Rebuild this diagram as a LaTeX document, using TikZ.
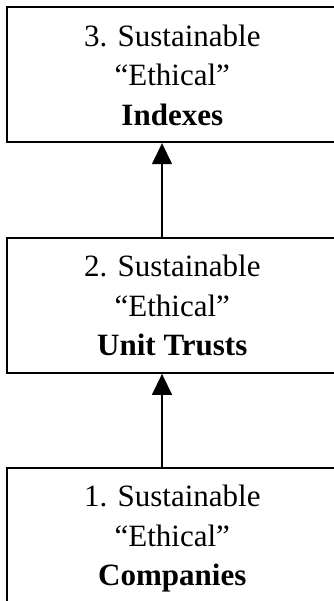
\documentclass[tikz,border=0pt]{standalone}
\usepackage{fontspec}
\setmainfont{Liberation Serif}
\usetikzlibrary{arrows.meta}
\begin{document}
\begin{tikzpicture}[x=1pt,y=-1pt,
  box/.style={draw=black,line width=1.8pt,minimum width=330pt,minimum height=135pt,
    inner sep=0pt,align=center,text depth=0pt,
    font=\fontsize{31}{39.5}\selectfont},
  conn/.style={line width=1.5pt,-{Triangle[length=21pt,width=20pt]}}]
\useasboundingbox (0,0) rectangle (333,601);
\node[box] (b3) at (172.3,74.8) {3. Sustainable\\“Ethical”\\\textbf{Indexes}};
\node[box] (b2) at (172.3,305.5) {2. Sustainable\\“Ethical”\\\textbf{Unit Trusts}};
\node[box] (b1) at (172.3,535.5) {1. Sustainable\\“Ethical”\\\textbf{Companies}};
\draw[conn] ([xshift=-10.3pt]b2.north) -- ([xshift=-10.3pt]b3.south);
\draw[conn] ([xshift=-10.3pt]b1.north) -- ([xshift=-10.3pt]b2.south);
\end{tikzpicture}
\end{document}
